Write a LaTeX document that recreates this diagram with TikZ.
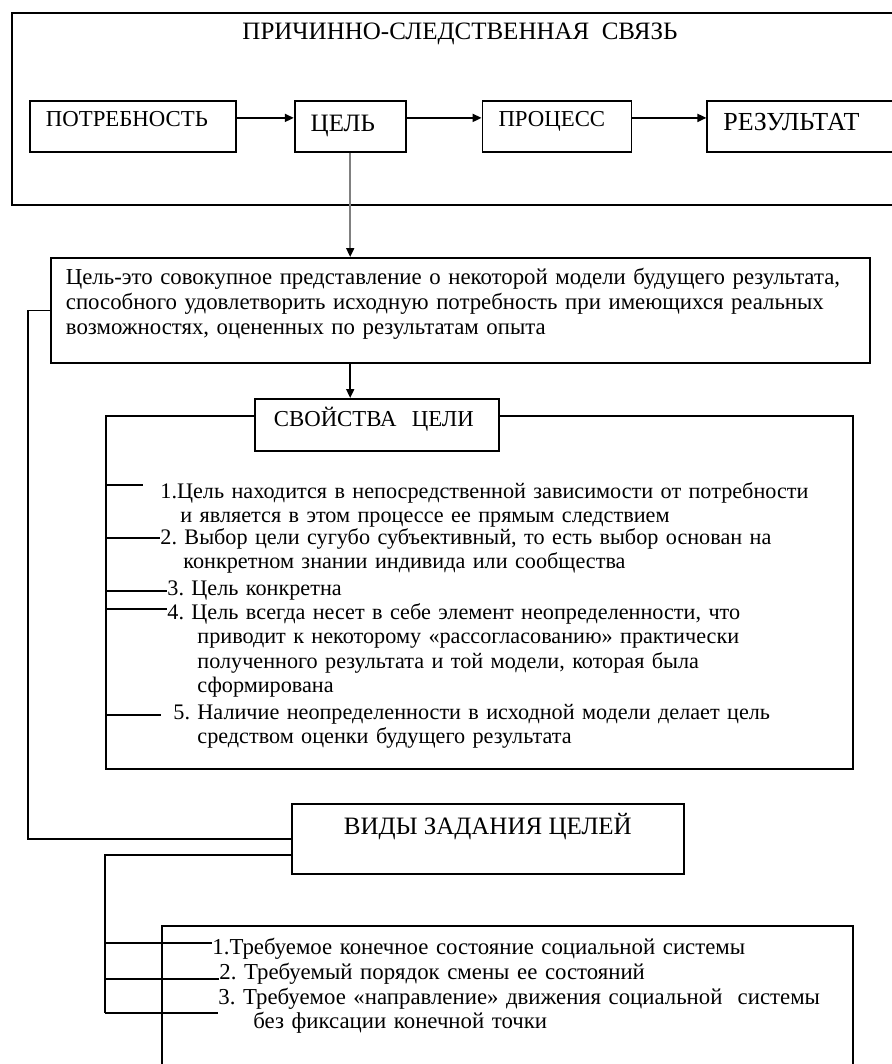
\documentclass[tikz,border=0pt]{standalone}
\usepackage{fontspec}
\setmainfont{Liberation Serif}
\frenchspacing
\usetikzlibrary{arrows.meta,positioning,calc}

\begin{document}
\begin{tikzpicture}[
  x=0.5pt,y=-0.5pt,
  font={\fontsize{11.4pt}{12.3pt}\selectfont},
  big/.style={font={\fontsize{12.5pt}{13pt}\selectfont}},
  box/.style={draw,line width=0.9pt,inner ysep=0pt},
  lbl/.style={box,align=left,inner xsep=8pt},
  item/.style={align=left,inner sep=0pt,text width=340pt,font={\fontsize{11.1pt}{12.3pt}\selectfont}},
  ln/.style={line width=0.9pt},
  arr/.style={ln,-{Triangle[length=4.5pt,width=4pt]}}
]
\useasboundingbox (0,0) rectangle (891,1064);

% Top frame
\node[box,inner sep=0pt,minimum width=444.5pt,minimum height=96pt,anchor=north west] (frame) at (11,12) {};
\node[big,anchor=base] (title) at (460,40) {ПРИЧИННО-СЛЕДСТВЕННАЯ\ \ СВЯЗЬ};

% Row
\node[lbl,text width=87pt,text height=13pt,text depth=12.5pt,anchor=north west] (potr) at (29,100) {ПОТРЕБНОСТЬ};
\node[lbl,big,text width=39.5pt,text height=15.5pt,text depth=10pt,right=28.5pt of potr] (cel) {ЦЕЛЬ};
\node[lbl,text width=58.5pt,text height=13pt,text depth=12.5pt,right=37.5pt of cel] (proc) {ПРОЦЕСС};
\node[lbl,font={\fontsize{13pt}{14pt}\selectfont},text width=77.5pt,text height=15pt,text depth=10.5pt,right=37pt of proc] (rez) {РЕЗУЛЬТАТ};

\draw[arr] ([yshift=4.25pt]potr.east) -- ([yshift=4.25pt]cel.west);
\draw[arr] ([yshift=4.25pt]cel.east) -- ([yshift=4.25pt]proc.west);
\draw[arr] ([yshift=4.25pt]proc.east) -- ([yshift=4.25pt]rez.west);

% Definition
\node[box,align=left,inner xsep=7.5pt,text width=394.5pt,text height=13.5pt,text depth=39pt,anchor=north west] (def) at (50,257)
  {Цель-это совокупное представление о некоторой модели будущего результата,\\
   способного удовлетворить исходную потребность при имеющихся реальных\\
   возможностях, оцененных по результатам опыта};
\draw[ln,gray,-{Triangle[length=4.5pt,width=4pt,color=black]}] (cel.south) -- (cel.south |- def.north);

% Properties
\node[box,inner sep=0pt,minimum width=373.5pt,minimum height=176.5pt,anchor=north west] (props) at (105,415) {};
\node[lbl,fill=white,inner xsep=9.5pt,text width=103pt,text height=14pt,text depth=12pt,anchor=north west] (svo) at (254,398) {СВОЙСТВА\ \ ЦЕЛИ};
\draw[arr] (cel.south |- def.south) -- (cel.south |- svo.north);

\node[item,anchor=base west] (p1) at (160,498) {1.Цель находится в непосредственной зависимости от потребности\\
  \hspace*{10pt}и является в этом процессе ее прямым следствием};
\node[item,anchor=base west] (p2) at (160,544) {2. Выбор цели сугубо субъективный, то есть выбор основан на\\
  \hspace*{11.5pt}конкретном знании индивида или сообщества};
\node[item,anchor=base west] (p3) at (167,595) {3. Цель конкретна};
\node[item,anchor=base west] (p4) at (167,619) {4. Цель всегда несет в себе элемент неопределенности, что\\
  \hspace*{15pt}приводит к некоторому «рассогласованию» практически\\
  \hspace*{15pt}полученного результата и той модели, которая была\\
  \hspace*{15pt}сформирована};
\node[item,anchor=base west] (p5) at (173,719) {5. Наличие неопределенности в исходной модели делает цель\\
  \hspace*{12pt}средством оценки будущего результата};

\foreach \n/\dy/\gap in {p1/6.5pt/8.5pt,p2/3pt/0pt,p3/2pt/0pt,p4/5pt/0pt,p5/2pt/6pt}
  \draw[ln] ($(props.west |- \n.base west)+(0,\dy)$) -- ($(\n.base west)+(-\gap,\dy)$);

% Kinds of goals
\node[box,big,minimum width=196pt,text height=15.5pt,text depth=19.5pt,anchor=north west] (vidy) at (291,803) {ВИДЫ ЗАДАНИЯ ЦЕЛЕЙ};
\draw[ln] (def.west) -- ++(-11pt,0) |- (vidy.west);

\node[box,inner sep=0pt,minimum width=345.5pt,minimum height=90pt,anchor=north west] (vlist) at (161,925) {};
\node[item,font={\fontsize{11.4pt}{12.3pt}\selectfont},text width=310pt,anchor=base west] (v1) at (212,954) {1.Требуемое конечное состояние социальной системы};
\node[item,font={\fontsize{11.4pt}{12.3pt}\selectfont},text width=310pt,anchor=base west] (v2) at (219,979) {2. Требуемый порядок смены ее состояний};
\node[item,font={\fontsize{11.4pt}{12.3pt}\selectfont},text width=310pt,anchor=base west] (v3) at (218,1004) {3. Требуемое «направление» движения социальной\ \ системы\\
  \hspace*{17.5pt}без фиксации конечной точки};

\coordinate (bus) at (105,855);
\draw[ln] (bus -| vidy.west) -- (bus) -- ($(bus |- v3.base west)+(0,-4.5pt)$);
\foreach \n/\dy in {v1/5.5pt,v2/0pt,v3/-4.5pt}
  \draw[ln] ($(bus |- \n.base west)+(0,\dy)$) -- ($(\n.base west)+(0,\dy)$);
\end{tikzpicture}
\end{document}
